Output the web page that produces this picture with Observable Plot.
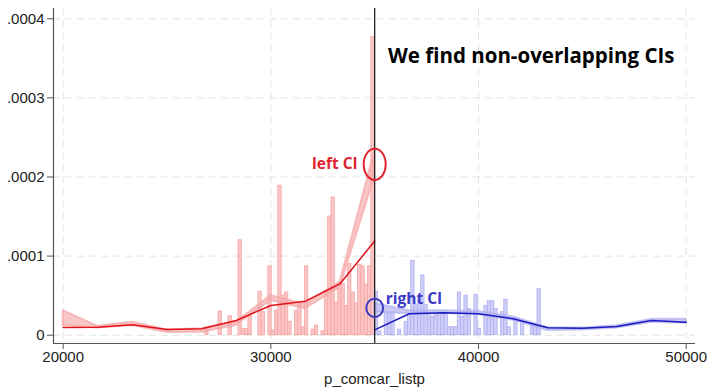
<!DOCTYPE html>
<html>
<head>
<meta charset="utf-8">
<script src="https://cdn.jsdelivr.net/npm/d3@7"></script>
<script src="https://cdn.jsdelivr.net/npm/@observablehq/plot@0.6"></script>
<style>
  html, body { margin: 0; padding: 0; background: #fff; }
  #chart svg { display: block; }
</style>
</head>
<body>
<div id="chart"></div>
<script>
// Running variable cutoff and histogram bin width
const cutoff = 35000;
const binWidth = 160;

// Histogram densities left of the cutoff (bins run left to right, last bin ends at the cutoff)
const leftBinDensity = [
  0.000008, 0, 0, 0, 0.000030, 0, 0, 0.000024, 0, 0,
  0.000120, 0.000008, 0.000008, 0.000024, 0, 0, 0.000055, 0.000029, 0, 0.000087,
  0.000006, 0.000031, 0.000189, 0.000050, 0.000054, 0.000017, 0, 0.000031, 0.000038, 0.000010,
  0.000087, 0, 0.000007, 0.000012, 0, 0.000005, 0.000055, 0.000150, 0.000174, 0.000041,
  0.000059, 0.000065, 0.000037, 0.000090, 0.000054, 0.000040, 0.000089, 0.000087, 0.000064, 0.000087,
  0.000377
];

// Histogram densities right of the cutoff (first bin starts at the cutoff)
const rightBinDensity = [
  0.000055, 0.000005, 0, 0.000029, 0.000029, 0.000029, 0, 0.000007, 0, 0.0000165,
  0.000027, 0.000094, 0.000038, 0.000044, 0.0000755, 0.000038, 0.000027, 0.000023, 0.000027, 0.000025,
  0.000027, 0.000027, 0.000010, 0.000010, 0.000010, 0.000054, 0.000023, 0.000050, 0.000033, 0,
  0.000051, 0.000008, 0, 0.000037, 0.000043, 0.000043, 0.000033, 0, 0.000029, 0.000045,
  0.000010, 0, 0.0000215, 0, 0.0000165, 0, 0, 0.000012, 0.000012, 0.000058
];

// Density estimates and confidence bands, left side
const leftGrid   = [20000, 21667, 23333, 25000, 26667, 28333, 30000, 31667, 33333, 35000];
const leftFit    = [0.0000097, 0.0000101, 0.0000132, 0.0000072, 0.0000081, 0.0000186, 0.0000376, 0.0000430, 0.0000650, 0.000119];
const leftCiLow  = [0.0000123, 0.0000092, 0.0000123, 0.0000035, 0.0000038, 0.0000123, 0.0000439, 0.0000334, 0.0000605, 0.000200];
const leftCiHigh = [0.0000310, 0.0000112, 0.0000165, 0.0000066, 0.0000081, 0.0000165, 0.0000500, 0.0000389, 0.0000670, 0.000232];

// Density estimates and confidence bands, right side
const rightGrid   = [35000, 36667, 38333, 40000, 41667, 43333, 45000, 46667, 48333, 50000];
const rightFit    = [0.0000068, 0.0000271, 0.0000283, 0.0000271, 0.0000207, 0.0000094, 0.0000089, 0.0000110, 0.0000186, 0.0000165];
const rightCiLow  = [0.0000290, 0.0000270, 0.0000275, 0.0000262, 0.0000190, 0.0000060, 0.0000065, 0.0000090, 0.0000165, 0.0000150];
const rightCiHigh = [0.0000400, 0.0000310, 0.0000310, 0.0000300, 0.0000230, 0.0000094, 0.0000090, 0.0000120, 0.0000200, 0.0000200];

// Axis ticks and text
const xTicks = [20000, 30000, 40000, 50000];
const yTicks = [0, 0.0001, 0.0002, 0.0003, 0.0004];
const xTitle = "p_comcar_listp";
const headline = "We find non-overlapping CIs";
const leftLabel = "left CI";
const rightLabel = "right CI";

const xDomain = [19533, 50448];
const yDomain = [-0.0000105, 0.000413];

const leftStart = cutoff - binWidth * leftBinDensity.length;
const leftBars = leftBinDensity
  .map((d, i) => ({x1: leftStart + i * binWidth, x2: leftStart + (i + 1) * binWidth, density: d}))
  .filter(d => d.density > 0);
const rightBars = rightBinDensity
  .map((d, i) => ({x1: cutoff + i * binWidth, x2: cutoff + (i + 1) * binWidth, density: d}))
  .filter(d => d.density > 0);

const leftCurve = leftGrid.map((x, i) => ({x, fit: leftFit[i], lo: leftCiLow[i], hi: leftCiHigh[i]}));
const rightCurve = rightGrid.map((x, i) => ({x, fit: rightFit[i], lo: rightCiLow[i], hi: rightCiHigh[i]}));

// Confidence intervals at the cutoff, circled
const leftAtCutoff = leftCurve[leftCurve.length - 1];
const rightAtCutoff = rightCurve[0];
const ciMarks = [
  {side: "left", x: cutoff, y: (leftAtCutoff.lo + leftAtCutoff.hi) / 2},
  {side: "right", x: cutoff, y: (rightAtCutoff.lo + rightAtCutoff.hi) / 2}
];

// Ellipse symbol for Plot.dot: width from r, height scaled by aspect
function ellipse(aspect) {
  return {
    draw(context, size) {
      const rx = Math.sqrt(size / Math.PI), ry = rx * aspect, k = 0.5523;
      context.moveTo(rx, 0);
      context.bezierCurveTo(rx, ry * k, rx * k, ry, 0, ry);
      context.bezierCurveTo(-rx * k, ry, -rx, ry * k, -rx, 0);
      context.bezierCurveTo(-rx, -ry * k, -rx * k, -ry, 0, -ry);
      context.bezierCurveTo(rx * k, -ry, rx, -ry * k, rx, 0);
      context.closePath();
    }
  };
}

const red = "#e3121b";
const blue = "#1a1ac2";
const redText = "#e02530";
const blueText = "#3a3ac6";
const annotFont = "'Open Sans', 'Noto Sans', sans-serif";

const yFormat = d => d === 0 ? "0" : d.toFixed(4).replace(/^0/, "");

const chart = Plot.plot({
  width: 709,
  height: 389,
  marginLeft: 53,
  marginRight: 14,
  marginTop: 8,
  marginBottom: 46,
  style: {fontFamily: "'Liberation Sans', Arial, sans-serif", fontSize: "15px", color: "#222", background: "#fff"},
  x: {domain: xDomain, label: null},
  y: {domain: yDomain, label: null},
  marks: [
    Plot.gridY(yTicks, {stroke: "#e2e2e2", strokeOpacity: 1, strokeDasharray: "7,5"}),
    Plot.gridX(xTicks, {stroke: "#e2e2e2", strokeOpacity: 1, strokeDasharray: "7,5"}),

    Plot.rectY(leftBars, {x1: "x1", x2: "x2", y1: 0, y2: "density", fill: "#fcc6c6", stroke: "#f5a4a4", strokeWidth: 0.8}),
    Plot.rectY(rightBars, {x1: "x1", x2: "x2", y1: 0, y2: "density", fill: "#cfcff9", stroke: "#aeaef0", strokeWidth: 0.8}),

    Plot.areaY(leftCurve, {x: "x", y1: "lo", y2: "hi", fill: "#f6a9a9", fillOpacity: 0.65, stroke: "#f6a9a9", strokeOpacity: 0.75, strokeWidth: 2}),
    Plot.areaY(rightCurve, {x: "x", y1: "lo", y2: "hi", fill: "#b3b3f0", fillOpacity: 0.7, stroke: "#b3b3f0", strokeOpacity: 0.75, strokeWidth: 2}),

    Plot.lineY(leftCurve, {x: "x", y: "fit", stroke: red, strokeWidth: 1.5}),
    Plot.lineY(rightCurve, {x: "x", y: "fit", stroke: blue, strokeWidth: 1.5}),

    Plot.ruleX([cutoff], {stroke: "#111", strokeWidth: 1.2}),

    Plot.ruleX([xDomain[0]], {stroke: "#555", strokeWidth: 1.2}),
    Plot.ruleY([yDomain[0]], {stroke: "#555", strokeWidth: 1.2}),

    Plot.axisX({ticks: xTicks, tickFormat: d => String(d), tickSize: 6, tickPadding: 2, stroke: "#555",
      label: xTitle, labelAnchor: "center", labelArrow: "none", labelOffset: 40}),
    Plot.axisY({ticks: yTicks, tickFormat: yFormat, tickSize: 6, tickPadding: 3, stroke: "#555", label: null}),

    Plot.dot(ciMarks.filter(d => d.side === "left"), {x: "x", y: "y", r: 11, symbol: ellipse(1.42), stroke: redText, strokeWidth: 2, fill: "none"}),
    Plot.dot(ciMarks.filter(d => d.side === "right"), {x: "x", y: "y", r: 8.4, symbol: ellipse(1.1), stroke: blueText, strokeWidth: 2, fill: "none"}),

    Plot.text(ciMarks.filter(d => d.side === "left"), {x: "x", y: "y", text: () => leftLabel, textAnchor: "end", dx: -17,
      fill: redText, fontWeight: "bold", fontSize: 15.5, fontFamily: annotFont}),
    Plot.text(ciMarks.filter(d => d.side === "right"), {x: "x", y: "y", text: () => rightLabel, textAnchor: "start", dx: 11, dy: -9,
      fill: blueText, fontWeight: "bold", fontSize: 15.5, fontFamily: annotFont}),

    Plot.text([headline], {frameAnchor: "top-right", dx: -21, dy: 40, fill: "#000", fontWeight: "bold", fontSize: 20.5, fontFamily: annotFont})
  ]
});

document.getElementById("chart").appendChild(chart);
</script>
</body>
</html>
